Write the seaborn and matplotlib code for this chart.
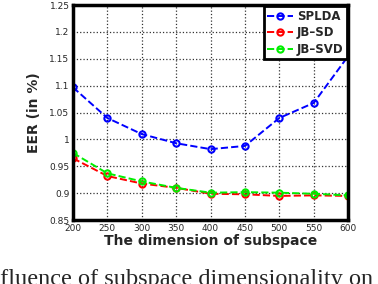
import numpy as np
import pandas as pd
import matplotlib
matplotlib.use("Agg")
import matplotlib.pyplot as plt
import seaborn as sns

# Datos
dims = [200, 250, 300, 350, 400, 450, 500, 550, 600]
splda = [1.097, 1.040, 1.010, 0.993, 0.982, 0.988, 1.040, 1.068, 1.155]
jb_sd = [0.965, 0.932, 0.918, 0.910, 0.899, 0.898, 0.895, 0.896, 0.895]
jb_svd = [0.975, 0.937, 0.922, 0.910, 0.901, 0.902, 0.901, 0.899, 0.896]

series = {"SPLDA": splda, "JB\u2013SD": jb_sd, "JB\u2013SVD": jb_svd}
colors = {"SPLDA": "#0000ff", "JB\u2013SD": "#ff0000", "JB\u2013SVD": "#00ee00"}

sns.set_style("white")
plt.rcParams['font.family'] = ['DejaVu Sans']

fig = plt.figure(figsize=(3.78, 2.84), dpi=100)
ax = fig.add_axes([0.193, 0.225, 0.728, 0.757])

for name, vals in series.items():
    df = pd.DataFrame({"dim": dims, "eer": vals})
    sns.lineplot(data=df, x="dim", y="eer", ax=ax, color=colors[name],
                 linestyle="--", linewidth=1.4, marker="o", markersize=4.5,
                 markerfacecolor="none", markeredgecolor=colors[name],
                 markeredgewidth=1.5, label=name)

ax.set_xlim(200, 600)
ax.set_ylim(0.85, 1.25)
ax.set_xticks(dims)
ax.set_yticks(np.arange(0.85, 1.2501, 0.05))
ax.set_yticklabels(["0.85", "0.9", "0.95", "1", "1.05", "1.1", "1.15", "1.2", "1.25"])
ax.tick_params(axis="both", direction="in", labelsize=6.5, length=3, width=1, pad=2.5)
ax.grid(True, color="#333333", linestyle=":", linewidth=0.9)
for sp in ax.spines.values():
    sp.set_linewidth(2.5)
    sp.set_color("black")

ax.set_xlabel("The dimension of subspace", fontsize=10, fontweight="bold", labelpad=1)
ax.set_ylabel("EER (in %)", fontsize=10, fontweight="bold", labelpad=6)

leg = ax.legend(loc="upper right", fontsize=8.5, frameon=True, fancybox=False,
                borderpad=0.3, labelspacing=0.3, handlelength=2.2,
                handletextpad=0.3, borderaxespad=0.1)
for t in leg.get_texts():
    t.set_fontweight("bold")
leg.get_frame().set_edgecolor("black")
leg.get_frame().set_linewidth(2)
leg.get_frame().set_alpha(1)

# Pie de figura recortado: "In" queda fuera del borde izquierdo
cap_font = dict(fontsize=17.5, family="Liberation Serif")
renderer = fig.canvas.get_renderer()
probe = fig.text(0, 0, "In", **cap_font)
w_in = probe.get_window_extent(renderer).width / fig.bbox.width
probe.remove()
fig.text(-w_in, -0.004, "Influence of subspace dimensionality on", va="baseline",
         ha="left", **cap_font)

fig.savefig("out.png", dpi=100)
